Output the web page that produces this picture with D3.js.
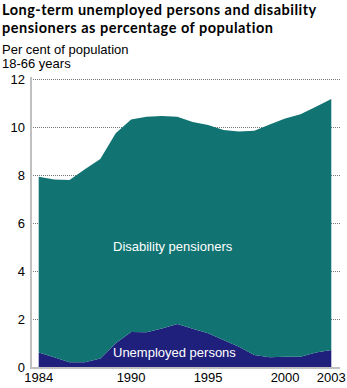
<!DOCTYPE html>
<html>
<head>
<meta charset="utf-8">
<script src="https://d3js.org/d3.v7.min.js"></script>
<style>
  body { margin: 0; background: #fff; }
  svg { display: block; }
</style>
</head>
<body>
<div id="chart"></div>
<script>

// years on the x axis
var years = [1984, 1985, 1986, 1987, 1988, 1989, 1990, 1991, 1992, 1993,
             1994, 1995, 1996, 1997, 1998, 1999, 2000, 2001, 2002, 2003];

// long-term unemployed, per cent of population 18-66
var unemployed = [0.62, 0.42, 0.21, 0.21, 0.37, 1.00, 1.47, 1.46, 1.62, 1.80,
                  1.61, 1.42, 1.14, 0.86, 0.51, 0.42, 0.44, 0.44, 0.62, 0.72];

// disability pensioners, stacked on top of unemployed
var disability = [7.32, 7.40, 7.59, 8.04, 8.31, 8.75, 8.86, 8.98, 8.85, 8.64,
                  8.61, 8.68, 8.75, 8.97, 9.35, 9.70, 9.93, 10.10, 10.24, 10.46];

var yTicks = [0, 2, 4, 6, 8, 10, 12];
var xTicks = [1984, 1990, 1995, 2000, 2003];

var W = 347, H = 388;
var svg = d3.select("#chart").append("svg")
  .attr("width", W)
  .attr("height", H)
  .style("font-family", "'Liberation Sans', Arial, sans-serif");

// title
var titleLines = ["Long-term unemployed persons and disability",
                  "pensioners as percentage of population"];
svg.append("g").selectAll("text")
  .data(titleLines)
  .enter().append("text")
    .attr("x", 2)
    .attr("y", function(d, i) { return 15 + i * 17.5; })
    .style("font-family", "Lato, sans-serif")
    .style("font-weight", "bold").style("font-size", "14.5px")
    .style("letter-spacing", "0.5px")
    .text(function(d) { return d; });

var sub = svg.append("text").style("font-size", "13px");
sub.append("tspan").attr("x", 2).attr("y", 54).text("Per cent of population");
sub.append("tspan").attr("x", 2).attr("y", 68).text("18-66 years");

var x = d3.scaleLinear().domain([1984, 2003]).range([38.7, 331.3]);
var y = d3.scaleLinear().domain([0, 12]).range([367.3, 79.3]);

// gridlines
svg.append("g").selectAll("line")
  .data(yTicks.filter(function(d) { return d > 0; }))
  .enter().append("line")
    .attr("x1", 31).attr("x2", 340)
    .attr("y1", function(d) { return Math.round(y(d)) + 0.5; })
    .attr("y2", function(d) { return Math.round(y(d)) + 0.5; })
    .attr("stroke", "#777").attr("stroke-width", 1)
    .attr("stroke-dasharray", "1,1");

// stacked areas
var table = years.map(function(yr, i) {
  return { year: yr, unemployed: unemployed[i], disability: disability[i] };
});
var series = d3.stack().keys(["unemployed", "disability"])(table);
var colors = { unemployed: "#1f1f7c", disability: "#127472" };

var area = d3.area()
  .x(function(d) { return x(d.data.year); })
  .y0(function(d) { return y(d[0]); })
  .y1(function(d) { return y(d[1]); });

svg.append("g").selectAll("path")
  .data(series)
  .enter().append("path")
    .attr("d", area)
    .attr("fill", function(d) { return colors[d.key]; });

// axes lines
svg.append("line")
  .attr("x1", 31).attr("x2", 31).attr("y1", 77).attr("y2", 369)
  .attr("stroke", "#c0c0c0").attr("stroke-width", 2);
svg.append("line")
  .attr("x1", 30).attr("x2", 340).attr("y1", 368).attr("y2", 368)
  .attr("stroke", "#c0c0c0").attr("stroke-width", 2);

// y tick labels
svg.append("g").selectAll("text")
  .data(yTicks)
  .enter().append("text")
    .attr("x", 25)
    .attr("y", function(d) { return y(d) + 4.5; })
    .attr("text-anchor", "end")
    .style("font-size", "13px")
    .text(function(d) { return d; });

// x tick labels
svg.append("g").selectAll("text")
  .data(xTicks)
  .enter().append("text")
    .attr("x", function(d) { return x(d); })
    .attr("y", 382)
    .attr("text-anchor", "middle")
    .style("font-size", "13px")
    .text(function(d) { return d; });

// series labels
svg.append("text").attr("x", 113).attr("y", 251)
  .attr("fill", "#fff").style("font-size", "13px")
  .text("Disability pensioners");
svg.append("text").attr("x", 113).attr("y", 357)
  .attr("fill", "#fff").style("font-size", "13px")
  .text("Unemployed persons");

</script>
</body>
</html>
